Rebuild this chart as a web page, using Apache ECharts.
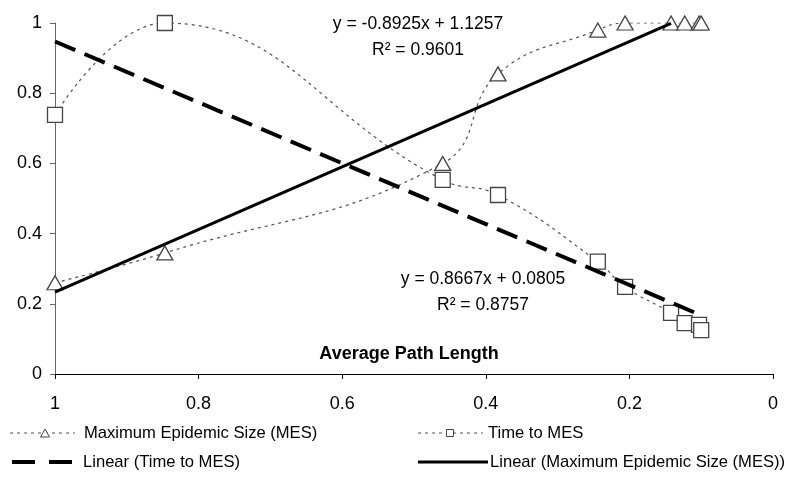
<!DOCTYPE html>
<html><head><meta charset="utf-8">
<script src="https://cdn.jsdelivr.net/npm/echarts@6/dist/echarts.min.js"></script>
<style>html,body{margin:0;padding:0;background:#fff}#c{width:803px;height:482px}</style>
</head><body><div id="c"></div>
<script>
// Average path length (x) for each observation
const pathLength = [1, 0.847, 0.46, 0.383, 0.244, 0.206, 0.142, 0.123, 0.103, 0.100];
const mesValues  = [0.26, 0.345, 0.60, 0.855, 0.98, 1.0, 1.0, 1.0, 1.0, 1.0];
const timeValues = [0.738, 1.0, 0.553, 0.51, 0.32, 0.248, 0.174, 0.145, 0.14, 0.125];
// Trendline coefficients [slope, intercept] and fitted x-range
const mesTrend  = [-0.8925, 1.1257];
const mesTrendRange = [1, 0.142];
const timeTrend = [0.8667, 0.0805];
const timeTrendRange = [1, 0.103];
const xTicks = [0, 0.2, 0.4, 0.6, 0.8, 1];
const yTicks = [0, 0.2, 0.4, 0.6, 0.8, 1];
const seriesNames = ['Maximum Epidemic Size (MES)', 'Time to MES', 'Linear (Time to MES)', 'Linear (Maximum Epidemic Size (MES))'];
const eqLabels = ['y = -0.8925x + 1.1257', 'R\u00b2 = 0.9601', 'y = 0.8667x + 0.0805', 'R\u00b2 = 0.8757'];
const axisTitle = 'Average Path Length';

const pts = (xs, ys) => xs.map((x, i) => [x, ys[i]]);
const trend = (c, r) => r.map(x => [x, c[0] * x + c[1]]);

const FONT = '"Liberation Sans", Arial, sans-serif';
const txt = (text, x, y, size, align, weight) => ({
  type: 'text', x: x, y: y, silent: true,
  style: {text: text, font: (weight || 'normal') + ' ' + size + 'px ' + FONT, fill: '#000',
    align: align || 'left', verticalAlign: 'middle'}
});
const dotted = {stroke: '#555', lineWidth: 1.2, lineDash: [3, 4]};
const legendGraphics = [
  // row 1
  {type: 'line', shape: {x1: 10, y1: 433, x2: 75, y2: 433}, style: dotted},
  {type: 'polygon', shape: {points: [[45, 429], [49.5, 437], [40.5, 437]]}, style: {fill: '#fff', stroke: '#444', lineWidth: 1}},
  txt(seriesNames[0], 84, 433, 16.6),
  {type: 'line', shape: {x1: 418, y1: 433, x2: 483, y2: 433}, style: dotted},
  {type: 'rect', shape: {x: 446.5, y: 429.5, width: 7, height: 7}, style: {fill: '#fff', stroke: '#444', lineWidth: 1}},
  txt(seriesNames[1], 488, 433, 16.6),
  // row 2
  {type: 'line', shape: {x1: 12, y1: 462, x2: 72, y2: 462}, style: {stroke: '#000', lineWidth: 4, lineDash: [23, 14]}},
  txt(seriesNames[2], 83, 462, 16.6),
  {type: 'line', shape: {x1: 418, y1: 462, x2: 488, y2: 462}, style: {stroke: '#000', lineWidth: 3}},
  txt(seriesNames[3], 490, 462, 16.6)
];

const chart = echarts.init(document.getElementById('c'));
chart.setOption({
  animation: false,
  grid: {left: 55, right: 30, top: 23, bottom: 108},
  xAxis: {
    type: 'value', inverse: true, min: 0, max: 1, interval: 0.2,
    axisLine: {onZero: false, lineStyle: {color: '#000', width: 1}},
    axisTick: {show: true, length: 5, lineStyle: {color: '#000'}},
    axisLabel: {margin: 21, fontFamily: FONT, fontSize: 18, color: '#000',
      formatter: v => xTicks.includes(+v.toFixed(1)) ? String(+v.toFixed(1)) : ''},
    splitLine: {show: false}
  },
  yAxis: {
    type: 'value', min: 0, max: 1, interval: 0.2, position: 'left',
    axisLine: {show: true, onZero: false, lineStyle: {color: '#666', width: 1}},
    axisTick: {show: true, length: 5, lineStyle: {color: '#666'}},
    axisLabel: {margin: 13, fontFamily: FONT, fontSize: 18, color: '#000',
      formatter: v => yTicks.includes(+v.toFixed(1)) ? String(+v.toFixed(1)) : ''},
    splitLine: {show: false}
  },
  graphic: [
    txt(axisTitle, 409, 354, 18, 'center', 'bold'),
    txt(eqLabels[0], 418, 24, 17.5, 'center'),
    txt(eqLabels[1], 418, 50, 17.5, 'center'),
    txt(eqLabels[2], 483, 279, 17.5, 'center'),
    txt(eqLabels[3], 483, 305, 17.5, 'center')
  ].concat(legendGraphics),
  series: [
    {name: seriesNames[0], type: 'line', smooth: 0.45, data: pts(pathLength, mesValues),
      symbol: 'triangle', symbolSize: [16, 14], showAllSymbol: true,
      lineStyle: {color: '#555', width: 1.2, type: [3, 4]},
      itemStyle: {color: '#fff', borderColor: '#444', borderWidth: 1.3}, z: 3},
    {name: seriesNames[1], type: 'line', smooth: 0.45, data: pts(pathLength, timeValues),
      symbol: 'rect', symbolSize: 15, showAllSymbol: true,
      lineStyle: {color: '#555', width: 1.2, type: [3, 4]},
      itemStyle: {color: '#fff', borderColor: '#444', borderWidth: 1.3}, z: 3},
    {name: seriesNames[2], type: 'line', data: trend(timeTrend, timeTrendRange), symbol: 'none',
      lineStyle: {color: '#000', width: 4, type: [22, 10]}, itemStyle: {color: '#000'}, z: 4},
    {name: seriesNames[3], type: 'line', data: trend(mesTrend, mesTrendRange), symbol: 'none',
      lineStyle: {color: '#000', width: 3, type: 'solid'}, itemStyle: {color: '#000'}, z: 4}
  ]
});
</script></body></html>
